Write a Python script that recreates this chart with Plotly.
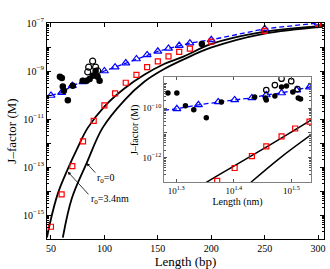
import plotly.graph_objects as go

# ---------------- main panel (Length in bp, log10 J in M) ----------------
sq_bp = [50, 60, 70, 80, 90, 100, 110, 120, 130, 140, 150, 160, 170, 180, 200, 250, 300]
sq_logJ = [-15.49, -14.14, -12.96, -11.93, -11.08, -10.43, -9.93, -9.49, -9.16, -8.84,
           -8.60, -8.39, -8.20, -8.07, -7.78, -7.33, -7.04]

tri_bp = [50, 60, 70, 80, 90, 100, 110, 120, 130, 140, 150, 160, 170, 180, 200, 250, 300]
tri_logJ = [-10.02, -9.90, -9.61, -9.45, -9.20, -9.00, -8.84, -8.67, -8.50, -8.33,
            -8.18, -8.06, -7.94, -7.84, -7.70, -7.24, -7.00]

exp_bp = [58.4, 60.2, 61.1, 62.1, 65.8, 70.4, 79.7, 83.4, 86.2, 89.0, 91.8, 93.7, 95.5, 191.2]
exp_logJ = [-9.24, -9.29, -9.65, -9.82, -10.22, -9.61, -9.41, -9.41, -9.33, -9.20,
            -9.00, -9.24, -9.41, -7.88]

open_bp = [89.0, 85.3, 91.8, 84.4, 93.7]
open_logJ = [-8.59, -8.84, -8.84, -9.04, -8.99]

cur_r34_bp = [46.3, 49.1, 56.5, 65.8, 75.1, 84.4, 100.2, 118.7, 137.3, 155.9, 174.5, 199.6, 248.8, 304.5]
cur_r34_logJ = [-15.94, -15.33, -14.10, -13.08, -12.18, -11.37, -10.47, -9.73, -9.16, -8.71,
                -8.39, -7.88, -7.37, -7.12]

cur_r0_bp = [61.1, 69.5, 83.4, 98.3, 118.7, 137.3, 155.9, 174.5, 199.6, 248.8, 304.5]
cur_r0_logJ = [-15.94, -14.31, -12.84, -11.37, -10.22, -9.45, -8.92, -8.51, -8.03, -7.45, -7.16]

# ---------------- inset (Length in nm) ----------------
in_sq_nm = [23.5, 25.2, 27.0, 28.6, 30.4, 32.1, 34.0]
in_sq_logJ = [-12.94, -12.42, -11.94, -11.54, -11.14, -10.82, -10.54]

in_tri_nm = [20.0, 21.8, 23.6, 25.2, 27.0, 28.6, 30.4, 32.3, 34.0]
in_tri_logJ = [-10.02, -9.86, -9.74, -9.66, -9.58, -9.46, -9.38, -9.26, -9.14]
in_dash_start = (19.0, -10.08)

in_exp_nm = [19.3, 20.0, 20.7, 21.4, 22.5, 23.9, 27.3, 28.5, 28.6, 29.6, 30.4, 31.0, 31.8, 32.5, 32.8]
in_exp_logJ = [-9.38, -9.38, -9.90, -10.06, -10.38, -9.74, -9.54, -9.58, -9.66, -9.50,
               -9.14, -9.10, -9.34, -9.58, -9.62]

in_open_nm = [28.6, 29.6, 30.4, 31.6, 32.4]
in_open_logJ = [-9.26, -9.06, -8.80, -8.90, -9.22]

in_cur_r34_nm = [22.5, 28.2, 34.2]
in_cur_r34_logJ = [-13.00, -11.66, -10.48]
in_cur_r0_nm = [26.9, 30.2, 34.2]
in_cur_r0_logJ = [-13.00, -12.02, -11.08]

main_ytick_exp = [-16, -15, -14, -13, -12, -11, -10, -9, -8, -7]
main_ytick_lab = {-15, -13, -11, -9, -7}
main_xticks = [50, 100, 150, 200, 250, 300]
in_ytick_exp = [-13, -12, -11, -10, -9]
in_ytick_lab = {-12, -10}
in_xtick_exp = [1.3, 1.4, 1.5]

FONT = "Liberation Serif"
RED = "#ff0000"
BLUE = "#0000ff"


def p10(v):
    return [10 ** a for a in v]


def sup(e):
    s = ("%g" % e).replace("-", "\u2212")
    return "10<sup>%s</sup>" % s


fig = go.Figure()

# main curves
fig.add_trace(go.Scatter(x=cur_r34_bp, y=p10(cur_r34_logJ), mode="lines",
                         line=dict(color="black", width=1.8, shape="spline"), xaxis="x", yaxis="y"))
fig.add_trace(go.Scatter(x=cur_r0_bp, y=p10(cur_r0_logJ), mode="lines",
                         line=dict(color="black", width=1.8, shape="spline"), xaxis="x", yaxis="y"))
fig.add_trace(go.Scatter(x=tri_bp, y=p10(tri_logJ), mode="lines+markers",
                         line=dict(color=BLUE, width=1.3, dash="5px,3px"),
                         marker=dict(symbol="triangle-up-open", size=7, color=BLUE, line=dict(width=1.2)),
                         xaxis="x", yaxis="y"))
fig.add_trace(go.Scatter(x=sq_bp, y=p10(sq_logJ), mode="markers",
                         marker=dict(symbol="square-open", size=5, color=RED, line=dict(width=1.2)),
                         xaxis="x", yaxis="y"))
fig.add_trace(go.Scatter(x=exp_bp, y=p10(exp_logJ), mode="markers",
                         marker=dict(symbol="circle", size=6.5, color="black"), xaxis="x", yaxis="y"))
fig.add_trace(go.Scatter(x=open_bp, y=p10(open_logJ), mode="markers",
                         marker=dict(symbol="circle-open", size=6, color="black", line=dict(width=1.2)),
                         xaxis="x", yaxis="y"))

# inset traces
fig.add_trace(go.Scatter(x=in_cur_r34_nm, y=p10(in_cur_r34_logJ), mode="lines",
                         line=dict(color="black", width=1.5, shape="spline"), xaxis="x2", yaxis="y2"))
fig.add_trace(go.Scatter(x=in_cur_r0_nm, y=p10(in_cur_r0_logJ), mode="lines",
                         line=dict(color="black", width=1.5, shape="spline"), xaxis="x2", yaxis="y2"))
fig.add_trace(go.Scatter(x=[in_dash_start[0]] + in_tri_nm, y=p10([in_dash_start[1]] + in_tri_logJ),
                         mode="lines", line=dict(color=BLUE, width=1.3, dash="5px,3px"),
                         xaxis="x2", yaxis="y2"))
fig.add_trace(go.Scatter(x=in_tri_nm, y=p10(in_tri_logJ), mode="markers",
                         marker=dict(symbol="triangle-up-open", size=7, color=BLUE, line=dict(width=1.2)),
                         xaxis="x2", yaxis="y2"))
fig.add_trace(go.Scatter(x=in_sq_nm, y=p10(in_sq_logJ), mode="markers",
                         marker=dict(symbol="square-open", size=5, color=RED, line=dict(width=1.2)),
                         xaxis="x2", yaxis="y2"))
fig.add_trace(go.Scatter(x=in_exp_nm, y=p10(in_exp_logJ), mode="markers",
                         marker=dict(symbol="circle", size=5.5, color="black"), xaxis="x2", yaxis="y2"))
fig.add_trace(go.Scatter(x=in_open_nm, y=p10(in_open_logJ), mode="markers",
                         marker=dict(symbol="circle-open", size=5.5, color="black", line=dict(width=1.2)),
                         xaxis="x2", yaxis="y2"))

# annotations
ann = [
    dict(x=83.4, y=-12.84, xref="x", yref="y", ax=10, ay=11, text="", showarrow=True,
         arrowhead=2, arrowsize=0.8, arrowwidth=0.8, arrowcolor="black"),
    dict(x=65.8, y=-13.2, xref="x", yref="y", ax=22, ay=24, text="", showarrow=True,
         arrowhead=2, arrowsize=0.8, arrowwidth=0.8, arrowcolor="black"),
    dict(x=101.1, y=-13.49, xref="x", yref="y", text="r<sub>0</sub>=0", showarrow=False,
         font=dict(family=FONT, size=10, color="black")),
    dict(x=104.8, y=-14.35, xref="x", yref="y", text="r<sub>0</sub>=3.4nm", showarrow=False,
         font=dict(family=FONT, size=10, color="black")),
]

fig.update_layout(
    width=330, height=269,
    margin=dict(l=47, r=4, t=23, b=27),
    paper_bgcolor="white", plot_bgcolor="white",
    showlegend=False,
    font=dict(family=FONT, size=10, color="black"),
    annotations=ann,
    xaxis=dict(domain=[0, 1], range=[46.3, 305.5], tickvals=main_xticks,
               ticks="inside", ticklen=4, tickcolor="black", showline=True, linecolor="black",
               linewidth=1, mirror="allticks", showgrid=False, zeroline=False,
               tickfont=dict(family=FONT, size=10),
               title=dict(text="Length (bp)", font=dict(family=FONT, size=13), standoff=2)),
    yaxis=dict(domain=[0, 1], type="log", range=[-16, -7],
               tickvals=p10(main_ytick_exp),
               ticktext=[sup(e) if e in main_ytick_lab else "" for e in main_ytick_exp],
               ticks="inside", ticklen=4, tickcolor="black", showline=True, linecolor="black",
               linewidth=1, mirror="allticks", showgrid=False, zeroline=False,
               minor=dict(ticks="inside", ticklen=2, dtick="D1", tickcolor="black", showgrid=False),
               tickfont=dict(family=FONT, size=10),
               title=dict(text="J\u2013factor (M)", font=dict(family=FONT, size=13), standoff=3)),
    xaxis2=dict(domain=[0.423, 0.953], anchor="y2", type="log", range=[1.279, 1.534],
                tickvals=[10 ** e for e in in_xtick_exp], ticktext=[sup(e) for e in in_xtick_exp],
                ticks="inside", ticklen=3, tickcolor="#555555", showline=True, linecolor="#808080",
                linewidth=1, mirror="allticks", showgrid=False, zeroline=False,
                tickfont=dict(family=FONT, size=9),
                title=dict(text="Length (nm)", font=dict(family=FONT, size=10), standoff=1)),
    yaxis2=dict(domain=[0.2626, 0.749], anchor="x2", type="log", range=[-13, -8.74],
                tickvals=p10(in_ytick_exp),
                ticktext=[sup(e) if e in in_ytick_lab else "" for e in in_ytick_exp],
                ticks="inside", ticklen=3, tickcolor="#555555", showline=True, linecolor="#808080",
                linewidth=1, mirror="allticks", showgrid=False, zeroline=False,
                minor=dict(ticks="inside", ticklen=1.5, dtick="D1", tickcolor="#555555", showgrid=False),
                tickfont=dict(family=FONT, size=9),
                title=dict(text="J\u2013factor (M)", font=dict(family=FONT, size=10), standoff=1)),
)

fig.write_html("out.html", config={"displayModeBar": False},
               post_script="document.body.style.margin='0';document.body.style.padding='0';")
